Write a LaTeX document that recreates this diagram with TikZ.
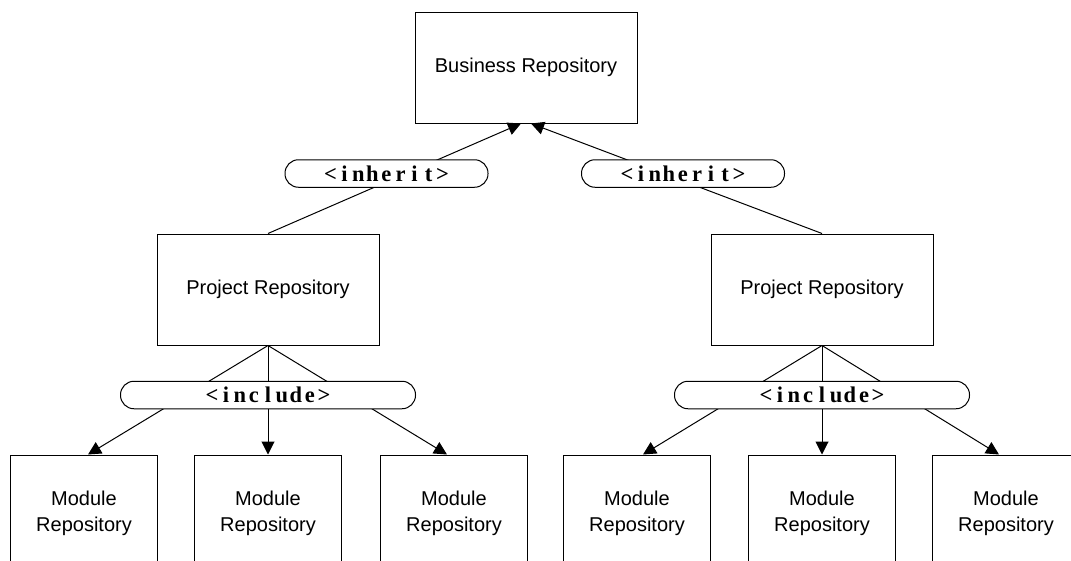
\documentclass[tikz,border=0pt]{standalone}
\usepackage{fontspec}
\usetikzlibrary{arrows.meta}
\newfontfamily\boxfont{Liberation Sans}
\newfontfamily\lblfont{Liberation Serif}
\newcommand{\mch}[1]{\makebox[14pt][c]{#1}}
\newcommand{\lbltext}[1]{{\lblfont\bfseries\fontsize{22.5}{24}\selectfont #1}}
\begin{document}
\begin{tikzpicture}[x=1pt,y=-1pt,
  repo/.style={draw,line width=1pt,fill=white,inner sep=0pt,align=center,
    font=\boxfont\fontsize{20}{26}\selectfont},
  bigbox/.style={repo,minimum width=222pt,minimum height=111pt},
  modbox/.style={repo,minimum width=147pt,minimum height=116pt},
  pill/.style={draw,line width=1pt,fill=white,inner sep=0pt,rounded corners=13.5pt,minimum height=27.5pt},
  conn/.style={line width=1pt},
  arr/.style={line width=1pt,-{Triangle[length=13pt,width=13pt]}}]
\useasboundingbox (0,0) rectangle (1071,560);
\clip (0,0) rectangle (1071,560);
\fill[white] (0,0) rectangle (1071,560);
% boxes
\node[bigbox] (bus) at (526,67.5) {Business Repository};
\node[bigbox] (projL) at (268,289.5) {Project Repository};
\node[bigbox] (projR) at (822,289.5) {Project Repository};
\node[modbox] (modA) at (84,513) {Module\\Repository};
\node[modbox] (modB) at (268,513) {Module\\Repository};
\node[modbox] (modC) at (454,513) {Module\\Repository};
\node[modbox] (modD) at (637,513) {Module\\Repository};
\node[modbox] (modE) at (822,513) {Module\\Repository};
\node[modbox] (modF) at (1006,513) {Module\\Repository};
% connectors
\draw[arr] (projL.north) -- ([xshift=-5pt]bus.south);
\draw[arr] (projR.north) -- ([xshift=5pt]bus.south);
\draw[arr] (projL.south) -- ([xshift=4pt]modA.north);
\draw[arr] (projL.south) -- (modB.north);
\draw[arr] (projL.south) -- ([xshift=-7pt]modC.north);
\draw[arr] (projR.south) -- ([xshift=6pt]modD.north);
\draw[arr] (projR.south) -- (modE.north);
\draw[arr] (projR.south) -- ([xshift=-7pt]modF.north);
% labels
\node[pill,minimum width=203pt] (inhL) at (386.5,173.5)
  {\lbltext{\mch{<}\mch{i}\mch{n}\mch{h}\mch{e}\mch{r}\mch{i}\mch{t}\mch{>}}};
\node[pill,minimum width=203pt] (inhR) at (683,173.5)
  {\lbltext{\mch{<}\mch{i}\mch{n}\mch{h}\mch{e}\mch{r}\mch{i}\mch{t}\mch{>}}};
\node[pill,minimum width=295pt] (incL) at (268,395)
  {\lbltext{\mch{<}\mch{i}\mch{n}\mch{c}\mch{l}\mch{u}\mch{d}\mch{e}\mch{>}}};
\node[pill,minimum width=295pt] (incR) at (822,395)
  {\lbltext{\mch{<}\mch{i}\mch{n}\mch{c}\mch{l}\mch{u}\mch{d}\mch{e}\mch{>}}};
\end{tikzpicture}
\end{document}
